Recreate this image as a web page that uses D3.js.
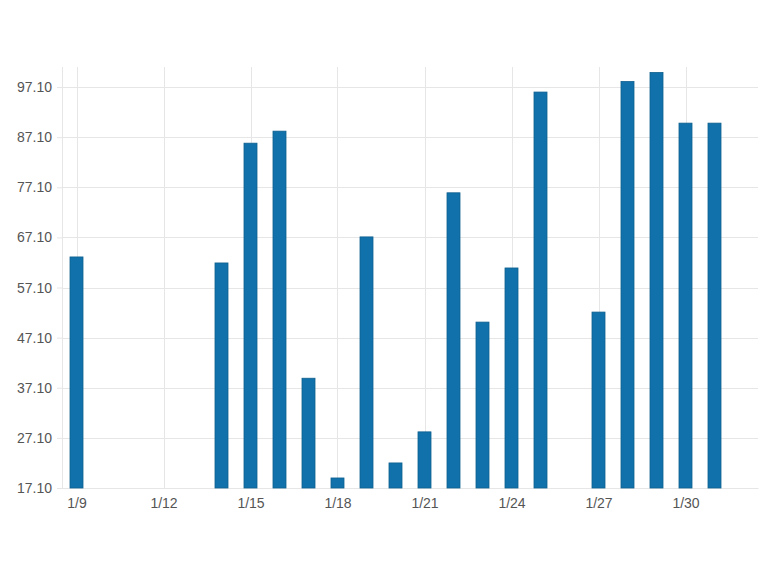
<!DOCTYPE html>
<html>
<head>
<meta charset="utf-8">
<script src="https://cdn.jsdelivr.net/npm/d3@7"></script>
<style>
  html, body { margin: 0; padding: 0; background: #fff; }
  svg { display: block; }
  text { font-family: "Liberation Sans", Arial, sans-serif; }
</style>
</head>
<body>
<script>
// Data
const dates = ["2020-01-09","2020-01-14","2020-01-15","2020-01-16","2020-01-17","2020-01-18","2020-01-19","2020-01-20","2020-01-21","2020-01-22","2020-01-23","2020-01-24","2020-01-25","2020-01-27","2020-01-28","2020-01-29","2020-01-30","2020-01-31"];
const values = [63.2, 62.0, 85.9, 88.3, 39.0, 19.1, 67.2, 22.1, 28.3, 76.0, 50.2, 61.0, 96.1, 52.2, 98.2, 100.0, 89.9, 89.9];
const yTicks = [17.1, 27.1, 37.1, 47.1, 57.1, 67.1, 77.1, 87.1, 97.1];
const xTickDates = ["2020-01-09","2020-01-12","2020-01-15","2020-01-18","2020-01-21","2020-01-24","2020-01-27","2020-01-30"];
const xDomain = ["2020-01-08T12:00", "2020-02-01T12:00"];
const yDomain = [17.1, 101.1];

const W = 770, H = 579;
const m = { left: 62, right: 12, top: 67, bottom: 91 };
const parse = d3.isoParse;
const parseDay = s => new Date(s + "T00:00");

const svg = d3.select("body").append("svg").attr("width", W).attr("height", H);

const x = d3.scaleTime().domain(xDomain.map(s => new Date(s))).range([m.left, W - m.right]);
const y = d3.scaleLinear().domain(yDomain).range([H - m.bottom, m.top]);

const data = dates.map((d, i) => ({ date: parseDay(d), value: values[i] }));

// Gridlines
const grid = svg.append("g");
grid.selectAll("line.h").data(yTicks).join("line")
  .attr("x1", m.left).attr("x2", W - m.right)
  .attr("y1", d => Math.round(y(d)) + 0.5).attr("y2", d => Math.round(y(d)) + 0.5)
  .attr("stroke", "#e6e6e6").attr("stroke-width", 1);
grid.selectAll("line.v").data(xTickDates.map(parseDay)).join("line")
  .attr("x1", d => Math.round(x(d)) + 0.5).attr("x2", d => Math.round(x(d)) + 0.5)
  .attr("y1", m.top).attr("y2", H - m.bottom)
  .attr("stroke", "#e6e6e6").attr("stroke-width", 1);
// left border
svg.append("line")
  .attr("x1", m.left + 0.5).attr("x2", m.left + 0.5)
  .attr("y1", m.top).attr("y2", H - m.bottom)
  .attr("stroke", "#e6e6e6");

// Y axis
const yAxis = d3.axisLeft(y).tickValues(yTicks).tickFormat(d3.format(".2f")).tickSize(5).tickPadding(5);
const gy = svg.append("g").attr("transform", `translate(${m.left},0)`).call(yAxis);
gy.select(".domain").remove();
gy.selectAll(".tick line").attr("stroke", "#e6e6e6");
gy.selectAll(".tick text").attr("fill", "#555").style("font-size", "14px");

// X axis
const xAxis = d3.axisBottom(x).tickValues(xTickDates.map(parseDay)).tickFormat(d3.timeFormat("%-m/%-d")).tickSize(0).tickPadding(10);
const gx = svg.append("g").attr("transform", `translate(0,${H - m.bottom})`).call(xAxis);
gx.select(".domain").attr("stroke", "#e6e6e6");
gx.selectAll(".tick text").attr("fill", "#555").style("font-size", "14px");

// Bars
const bw = 13;
svg.append("g").selectAll("rect").data(data).join("rect")
  .attr("x", d => x(d.date) - bw / 2)
  .attr("width", bw)
  .attr("y", d => y(d.value))
  .attr("height", d => y(yDomain[0]) - y(d.value))
  .attr("fill", "#1172ab")
  .attr("stroke", "#0e5f8e")
  .attr("stroke-width", 0.8);
</script>
</body>
</html>
